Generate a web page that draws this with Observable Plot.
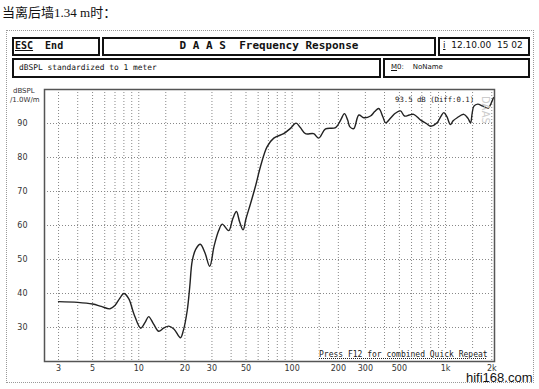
<!DOCTYPE html>
<html><head><meta charset="utf-8">
<script src="https://cdn.jsdelivr.net/npm/d3@7"></script>
<script src="https://cdn.jsdelivr.net/npm/@observablehq/plot@0.6"></script>
<style>
body{margin:0;background:#fff;width:539px;height:389px;overflow:hidden;position:relative;font-family:"DejaVu Sans Mono",monospace;color:#111;}
.abs{position:absolute;white-space:nowrap;}
.box{position:absolute;border:2px solid #111;box-sizing:border-box;}
#chart{position:absolute;left:0;top:0;}
</style></head><body>
<div id="chart"></div>
<div class="abs" style="left:6px;top:30px;width:528px;height:353px;border:1px dotted #999;box-sizing:border-box;"></div>
<div class="abs" style="left:2px;top:4px;font-family:'Noto Sans CJK SC';font-size:13px;line-height:16px;color:#111;">当离后墙<span style="font-family:'Liberation Serif';">1.34 m</span>时：</div>

<div class="box" style="left:12px;top:37px;width:88px;height:19px;"></div>
<div class="abs" style="left:15px;top:39px;font-size:10px;font-weight:bold;line-height:13px;"><span style="text-decoration:underline;">ESC</span>&nbsp;&nbsp;End</div>
<div class="box" style="left:102px;top:37px;width:334px;height:19px;"></div>
<div class="abs" style="left:102px;top:39px;width:334px;text-align:center;font-size:11px;font-weight:bold;line-height:13px;">D A A S&nbsp;&nbsp;Frequency Response</div>
<div class="box" style="left:438px;top:37px;width:92px;height:19px;"></div>
<div class="abs" style="left:443px;top:39px;font-family:'DejaVu Sans';font-size:9px;line-height:13px;"><span style="text-decoration:underline;">i</span>&nbsp;&nbsp;12.10.00&nbsp;&nbsp;15 02</div>

<div class="box" style="left:12px;top:58px;width:369px;height:20px;"></div>
<div class="abs" style="left:19px;top:62px;font-size:7.9px;line-height:11px;">dBSPL standardized to 1 meter</div>
<div class="box" style="left:383px;top:58px;width:147px;height:20px;"></div>
<div class="abs" style="left:391px;top:62px;font-family:'DejaVu Sans';font-size:7px;line-height:11px;"><span style="text-decoration:underline;">M</span>0:&nbsp;&nbsp;&nbsp;&nbsp;NoName</div>

<div class="abs" style="left:13px;top:87px;font-family:'DejaVu Sans';font-size:7px;line-height:8px;color:#333;">dBSPL</div>
<div class="abs" style="left:10px;top:96px;font-family:'DejaVu Sans';font-size:7px;line-height:8px;color:#333;">/1.0W/m</div>
<div class="abs" style="left:395px;top:95px;font-size:7.3px;line-height:10px;color:#222;">93.5 dB (Diff:0.1)</div>
<div class="abs" style="left:479px;top:96px;font-family:'DejaVu Sans';font-size:10px;line-height:12px;color:#ccc;transform-origin:0 0;transform:rotate(90deg) translate(0,-12px);">DAAS</div>
<div class="abs" style="left:319px;top:350px;font-size:8px;line-height:10px;color:#222;background:#fff;text-decoration:underline dotted;">Press F12 for combined Quick Repeat</div>
<div class="abs" style="left:466px;top:371px;font-family:'Liberation Sans';font-size:13px;line-height:14px;color:#111;">hifi168.com</div>

<script>
// Frequency response data (Hz, dBSPL)
const freq = [3, 4, 5, 5.7, 6.5, 7, 7.5, 8, 8.6, 9.3, 10.3, 11, 11.6, 12.5, 13.5, 14.5, 15.7, 17, 18.7, 19.5, 20.7, 21.5, 22.3, 23.5, 25.2, 27, 29, 31, 33.2, 35, 38.6, 41, 43.3, 45.5, 47.9, 50, 53.5, 58, 62.1, 68.7, 75.9, 88, 97, 106, 113, 122, 138, 149, 165, 192, 207, 219, 230, 238, 252, 272, 293, 324, 345, 367, 390, 406, 440, 470, 508, 540, 580, 620, 692, 750, 800, 880, 930, 974, 1020, 1075, 1120, 1190, 1315, 1400, 1455, 1490, 1530, 1620, 1750, 1900, 1960, 2050];
const spl  = [37.6, 37.4, 36.9, 36.2, 35.5, 36.5, 38.5, 40, 38.5, 34, 29.8, 31.5, 33.2, 31, 28.9, 29.8, 30.4, 29.5, 27, 29, 35, 42, 49.5, 53, 54.5, 52, 48, 54, 58.5, 60.4, 58.5, 62, 64.1, 61, 58.7, 62, 66.4, 72, 77.3, 83.2, 85.7, 87, 88.5, 90.1, 88.8, 87, 87, 85.7, 88.4, 88.8, 91, 92.9, 91, 89, 88.5, 92.5, 91.7, 92.2, 93.5, 94.4, 92, 90.2, 91.7, 93, 93.7, 92.2, 92.5, 92.7, 90.9, 90, 89.2, 90.2, 92, 93.2, 92, 89.7, 90.8, 91.7, 92.7, 91.5, 90.2, 93, 95.1, 95.7, 95.1, 94.5, 95.5, 97.6];

const gridFreqs = [3,4,5,6,7,8,9,10,15,20,30,40,50,60,70,80,90,100,150,200,300,400,500,600,700,800,900,1000,1500,2000];
const gridDb = [30,40,50,60,70,80,90];
const xTicks = [3,5,10,20,30,50,100,200,300,500,1000,2000];
const xLabels = ["3","5","10","20","30","50","100","200","300","500","1k","2k"];
const yTicks = [30,40,50,60,70,80,90];

const rows = freq.map((f,i)=>({f, db: spl[i]}));
const tickRows = xTicks.map((t,i)=>({t, label: xLabels[i]}));

const chart = Plot.plot({
  width: 539, height: 389,
  marginLeft: 44, marginRight: 45, marginTop: 89, marginBottom: 28,
  style: {background: "transparent", fontFamily: "DejaVu Sans", fontSize: "8px", color: "#333", overflow: "visible"},
  x: {type: "log", domain: [2.43, 2084], axis: null},
  y: {domain: [20, 100], axis: null},
  marks: [
    Plot.ruleX(gridFreqs, {stroke: "#888", strokeDasharray: "1,2", strokeWidth: 1}),
    Plot.ruleY(gridDb, {stroke: "#888", strokeDasharray: "1,2", strokeWidth: 1}),
    Plot.line(rows, {x: "f", y: "db", stroke: "#222", strokeWidth: 1.4, curve: "catmull-rom"}),
    Plot.frame({stroke: "#555", strokeWidth: 1.5}),
    Plot.text(tickRows, {x: "t", text: "label", frameAnchor: "bottom", lineAnchor: "top", dy: 4, fill: "#333", fontSize: 8}),
    Plot.text(yTicks, {y: d => d, text: d => String(d), frameAnchor: "left", textAnchor: "end", dx: -17, fill: "#333", fontSize: 8})
  ]
});
document.getElementById("chart").appendChild(chart);
</script>
</body></html>
